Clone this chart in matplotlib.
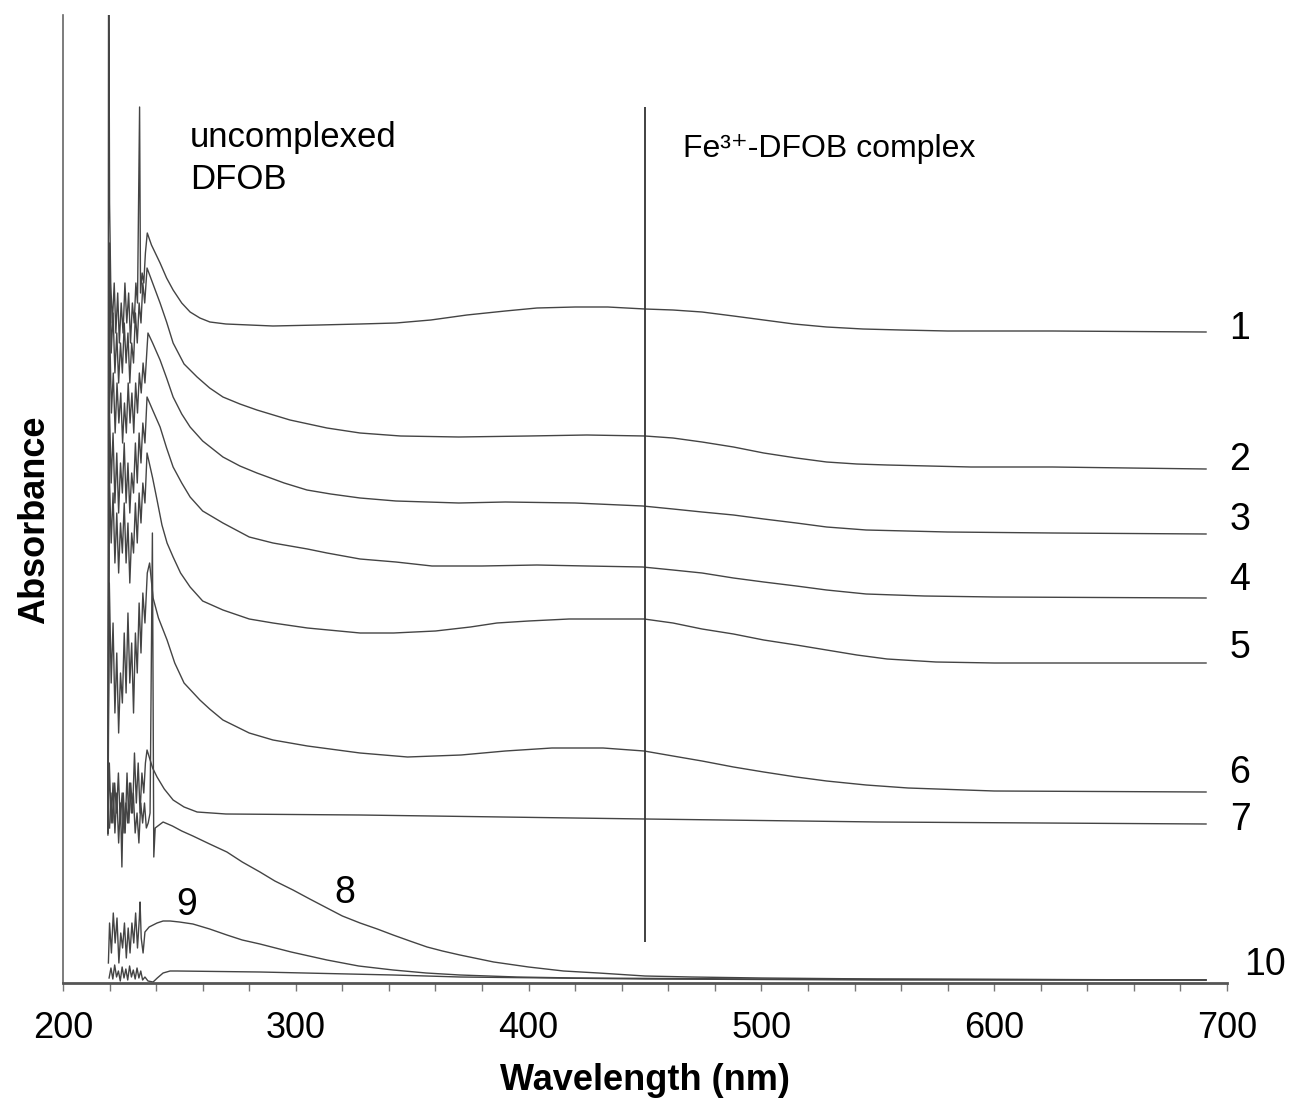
import matplotlib.pyplot as plt
from matplotlib.ticker import MultipleLocator

plt.rcParams['font.family'] = ['Liberation Sans', 'DejaVu Sans']

# spectra: wavelength (nm) and absorbance (stacked, arbitrary offset)
wl1 = [219.3, 219.6, 220.0, 220.5, 221.2, 222.0, 222.7, 223.5, 224.2, 225.0, 225.8, 226.6,
       227.4, 228.2, 229.0, 229.8, 230.6, 231.3, 232.0, 232.9, 233.3, 234.0, 234.7, 235.4,
       236.2, 238.0, 241.7, 244.5, 247.3, 251.0, 254.6, 258.8, 263.1, 270, 290.2, 310,
       327.6, 343, 358, 373.5, 390, 403.6, 420, 434, 450, 462, 474.5, 488, 501, 514,
       528, 543.6, 560, 580, 625, 691]
a1 = [0.150, 1.10, 0.78, 0.70, 0.66, 0.70, 0.65, 0.69, 0.64, 0.68, 0.65, 0.70,
      0.66, 0.69, 0.64, 0.68, 0.66, 0.70, 0.68, 0.876, 0.69, 0.71, 0.70, 0.73,
      0.750, 0.738, 0.720, 0.705, 0.693, 0.680, 0.671, 0.665, 0.661, 0.659, 0.657, 0.658,
      0.659, 0.660, 0.663, 0.668, 0.672, 0.675, 0.676, 0.676, 0.674, 0.673, 0.671, 0.667, 0.663, 0.659,
      0.656, 0.654, 0.653, 0.652, 0.652, 0.651]

wl2 = [219.3, 220.0, 220.7, 221.5, 222.3, 223.1, 223.9, 224.7, 225.5, 226.3, 227.1, 227.9,
       228.7, 229.5, 230.3, 231.1, 231.9, 232.7, 233.5, 234.3, 235.1, 236.1,
       238.5, 241.7, 244.5, 247.3, 252, 257.6, 263, 268.7, 276, 283.3, 297.5, 313.4,
       327.6, 345, 370, 400, 425, 450, 462, 474.5, 488, 501, 515, 528, 541, 554, 590, 625, 691]
a2 = [0.155, 0.74, 0.63, 0.67, 0.61, 0.65, 0.60, 0.64, 0.61, 0.66, 0.62, 0.65,
      0.60, 0.64, 0.62, 0.67, 0.64, 0.68, 0.66, 0.70, 0.68, 0.715,
      0.700, 0.680, 0.661, 0.640, 0.619, 0.606, 0.595, 0.586, 0.579, 0.573, 0.563, 0.555,
      0.550, 0.547, 0.546, 0.547, 0.548, 0.547, 0.545, 0.541, 0.536, 0.530, 0.525, 0.521, 0.519, 0.518, 0.516, 0.516, 0.514]

wl3 = [219.3, 220.0, 220.8, 221.6, 222.4, 223.2, 224.0, 224.8, 225.6, 226.4, 227.2, 228.0,
       228.8, 229.6, 230.4, 231.2, 232.0, 232.8, 233.6, 234.4, 235.2, 236.5,
       238.5, 241.7, 244.5, 247.3, 251, 254.6, 260, 268.7, 276, 283.3, 295, 304.8, 315,
       327.6, 343, 370, 390, 420, 449, 462, 474.5, 488, 501, 515, 528, 545, 580, 625, 691]
a3 = [0.160, 0.66, 0.57, 0.61, 0.55, 0.60, 0.56, 0.59, 0.54, 0.58, 0.55, 0.60,
      0.56, 0.59, 0.55, 0.60, 0.57, 0.61, 0.59, 0.62, 0.60, 0.650,
      0.640, 0.623, 0.605, 0.586, 0.569, 0.556, 0.542, 0.526, 0.517, 0.510, 0.500, 0.493, 0.489,
      0.485, 0.482, 0.480, 0.481, 0.480, 0.477, 0.474, 0.471, 0.468, 0.464, 0.460, 0.456, 0.453, 0.451, 0.450, 0.449]

wl4 = [219.3, 219.9, 220.7, 221.5, 222.3, 223.1, 223.9, 224.7, 225.5, 226.3, 227.1, 227.9,
       228.7, 229.5, 230.3, 231.1, 231.9, 232.7, 233.5, 234.3, 235.2, 236.1,
       238.5, 241.7, 244.5, 247.3, 251, 254.6, 260, 268.7, 280, 290.2, 305, 313.4, 327.6,
       343, 358.5, 380, 403.6, 425, 449, 462, 474.5, 488, 501, 515, 528, 545, 570, 600, 691]
a4 = [0.152, 0.58, 0.50, 0.55, 0.48, 0.53, 0.47, 0.52, 0.49, 0.54, 0.48, 0.52,
      0.47, 0.51, 0.49, 0.54, 0.50, 0.55, 0.52, 0.56, 0.54, 0.586,
      0.573, 0.556, 0.535, 0.516, 0.500, 0.486, 0.472, 0.460, 0.446, 0.440, 0.434, 0.430, 0.424,
      0.421, 0.417, 0.417, 0.418, 0.417, 0.416, 0.413, 0.410, 0.405, 0.401, 0.397, 0.393, 0.389, 0.387, 0.386, 0.385]

wl5 = [219.3, 219.9, 220.7, 221.5, 222.3, 223.1, 223.9, 224.7, 225.5, 226.3, 227.1, 227.9,
       228.7, 229.5, 230.3, 231.1, 231.9, 232.7, 233.5, 234.3, 235.2, 236.1,
       238.5, 240.4, 242.5, 244.7, 247.3, 250.5, 254.6, 260, 268.7, 280, 290.2, 305, 327.6,
       342, 360, 375, 386.4, 400, 417.4, 435, 449.6, 462, 474.5, 488, 501, 515, 528, 541,
       554, 575, 600, 691]
a5 = [0.150, 0.51, 0.44, 0.49, 0.42, 0.47, 0.41, 0.46, 0.43, 0.48, 0.42, 0.46,
      0.40, 0.45, 0.43, 0.48, 0.44, 0.49, 0.46, 0.50, 0.48, 0.530,
      0.505, 0.483, 0.458, 0.440, 0.426, 0.410, 0.396, 0.382, 0.373, 0.364, 0.360, 0.355, 0.350,
      0.350, 0.352, 0.356, 0.360, 0.362, 0.364, 0.364, 0.364, 0.360, 0.354, 0.349, 0.343, 0.338, 0.333, 0.328,
      0.324, 0.321, 0.320, 0.320]

wl6 = [219.3, 219.9, 220.7, 221.5, 222.3, 223.1, 223.9, 224.7, 225.5, 226.3, 227.1, 227.9,
       228.7, 229.5, 230.3, 231.1, 231.9, 232.7, 233.5, 234.3, 235.2, 236.2, 237.2,
       238.7, 241, 244.7, 248, 252, 258.8, 263, 268.7, 280, 290.2, 305, 327.6, 348, 371,
       390, 410, 432, 449.6, 462, 474.5, 488, 501, 515, 528, 545, 563, 600, 691]
a6 = [0.148, 0.40, 0.30, 0.36, 0.27, 0.33, 0.25, 0.31, 0.28, 0.35, 0.29, 0.37,
      0.30, 0.34, 0.27, 0.35, 0.31, 0.38, 0.33, 0.39, 0.36, 0.41, 0.420,
      0.385, 0.365, 0.343, 0.320, 0.300, 0.283, 0.274, 0.263, 0.250, 0.243, 0.237, 0.230, 0.226, 0.228,
      0.232, 0.235, 0.235, 0.232, 0.227, 0.222, 0.216, 0.211, 0.206, 0.202, 0.198, 0.195, 0.192, 0.191]

wl7 = [219.3, 219.9, 220.7, 221.5, 222.3, 223.1, 223.9, 224.7, 225.3, 225.9, 226.7, 227.5,
       228.3, 229.1, 229.9, 230.7, 231.5, 232.3, 233.1, 233.9, 234.7, 235.4, 236.1,
       238.5, 240.4, 243.5, 247.3, 252, 257.6, 270, 327.6, 450, 550, 691]
a7 = [0.150, 0.22, 0.16, 0.20, 0.15, 0.19, 0.14, 0.18, 0.116, 0.19, 0.15, 0.21,
      0.16, 0.20, 0.17, 0.23, 0.18, 0.22, 0.17, 0.21, 0.19, 0.22, 0.233,
      0.215, 0.206, 0.194, 0.183, 0.176, 0.171, 0.169, 0.168, 0.164, 0.161, 0.159]

wl8 = [220.0, 220.6, 221.4, 222.2, 223.0, 223.8, 224.6, 225.4, 226.2, 227.0, 227.8, 228.6,
       229.4, 230.2, 231.0, 231.8, 232.6, 233.4, 234.2, 235.0, 235.8, 236.6, 237.4,
       238.4, 239.0, 239.6, 243, 247, 251, 255.8, 263, 270.4, 277, 284.6, 291, 298.8,
       306, 313.4, 320, 327.6, 335, 341.8, 349, 356.4, 363, 370.5, 385, 400, 415, 430,
       450, 470, 500, 550, 691]
a8 = [0.155, 0.19, 0.16, 0.20, 0.17, 0.21, 0.16, 0.19, 0.15, 0.18, 0.16, 0.20,
      0.17, 0.19, 0.15, 0.17, 0.14, 0.18, 0.16, 0.18, 0.155, 0.16, 0.17,
      0.45, 0.126, 0.155, 0.161, 0.157, 0.152, 0.147, 0.139, 0.131, 0.121, 0.111, 0.102, 0.093,
      0.084, 0.075, 0.067, 0.060, 0.054, 0.048, 0.042, 0.036, 0.032, 0.028, 0.021, 0.016, 0.012, 0.010,
      0.007, 0.006, 0.005, 0.004, 0.003]

wl9 = [219.5, 220.0, 220.8, 221.6, 222.4, 223.2, 224.0, 224.8, 225.6, 226.4, 227.2, 228.0,
       228.8, 229.6, 230.4, 231.2, 232.0, 232.8, 233.1, 233.6, 234.4, 235.2,
       237, 240.4, 243, 246, 250, 255.8, 263, 270.4, 277, 284.6, 298, 313.4, 327,
       341.8, 356, 370.5, 395, 420, 500, 691]
a9 = [0.020, 0.060, 0.030, 0.070, 0.040, 0.065, 0.020, 0.050, 0.035, 0.060, 0.025, 0.055,
      0.030, 0.060, 0.040, 0.070, 0.035, 0.065, 0.081, 0.045, 0.030, 0.051,
      0.056, 0.060, 0.062, 0.062, 0.061, 0.059, 0.054, 0.048, 0.043, 0.039, 0.031, 0.023, 0.017,
      0.013, 0.010, 0.008, 0.006, 0.005, 0.004, 0.003]

wl10 = [219.8, 220.6, 221.4, 222.2, 223.0, 223.8, 224.6, 225.4, 226.2, 227.0, 227.8, 228.6,
        229.4, 230.2, 231.0, 231.8, 232.6, 233.4, 234.2, 235.2, 236.5, 238.7,
        240.5, 243, 246, 249, 284.6, 341.8, 370.5, 450, 550, 691]
a10 = [0.005, 0.015, 0.004, 0.018, 0.006, 0.012, 0.002, 0.016, 0.005, 0.014, 0.003, 0.017,
       0.006, 0.013, 0.004, 0.015, 0.005, 0.012, 0.003, 0.006, 0.002, 0.001,
       0.005, 0.010, 0.012, 0.012, 0.011, 0.008, 0.006, 0.004, 0.003, 0.003]

spectra = [(wl1, a1), (wl2, a2), (wl3, a3), (wl4, a4), (wl5, a5),
           (wl6, a6), (wl7, a7), (wl8, a8), (wl9, a9), (wl10, a10)]

# curve number labels
label_names = ['1', '2', '3', '4', '5', '6', '7', '10', '8', '9']
label_wl = [705.6, 705.6, 705.6, 705.6, 705.6, 705.6, 705.6, 716.3, 321.1, 253.3]
label_abs = [0.654, 0.523, 0.463, 0.403, 0.335, 0.210, 0.163, 0.018, 0.090, 0.078]

marker_wl = 450

fig = plt.figure(figsize=(12.94, 11.07), dpi=100)
ax = fig.add_axes([63 / 1294, 1 - 983 / 1107, 1164 / 1294, 968 / 1107])

for wl, a in spectra:
    ax.plot(wl, a, color='#444444', lw=1.0)

ax.vlines(marker_wl, 0.041, 0.876, color='#333333', lw=1.3)

ax.set_xlim(200, 700)
ax.set_ylim(0, 0.968)
ax.spines['top'].set_visible(False)
ax.spines['right'].set_visible(False)
ax.spines['left'].set_color('#666666')
ax.spines['left'].set_linewidth(1.2)
ax.spines['bottom'].set_color('#555555')
ax.spines['bottom'].set_linewidth(2.0)
ax.set_yticks([])
ax.xaxis.set_major_locator(MultipleLocator(100))
ax.xaxis.set_minor_locator(MultipleLocator(20))
ax.tick_params(axis='x', which='both', direction='out', length=6, width=1,
               color='#777777', labelsize=26, pad=14)

for name, x, y in zip(label_names, label_wl, label_abs):
    ax.text(x, y, name, fontsize=27, ha='center', va='center', clip_on=False)

ax.text(254.6, 0.836, 'uncomplexed', fontsize=25, ha='left', va='baseline')
ax.text(254.6, 0.794, 'DFOB', fontsize=25, ha='left', va='baseline')
ax.text(466.3, 0.826, 'Fe\u00b3\u207a-DFOB complex', fontsize=23, ha='left', va='baseline')

fig.text(35 / 1294, 1 - 520 / 1107, 'Absorbance', rotation=90, fontsize=26,
         fontweight='bold', ha='center', va='center')
fig.text(645 / 1294, 1 - 1080 / 1107, 'Wavelength (nm)', fontsize=26,
         fontweight='bold', ha='center', va='center')

fig.savefig('out.png', dpi=100)
